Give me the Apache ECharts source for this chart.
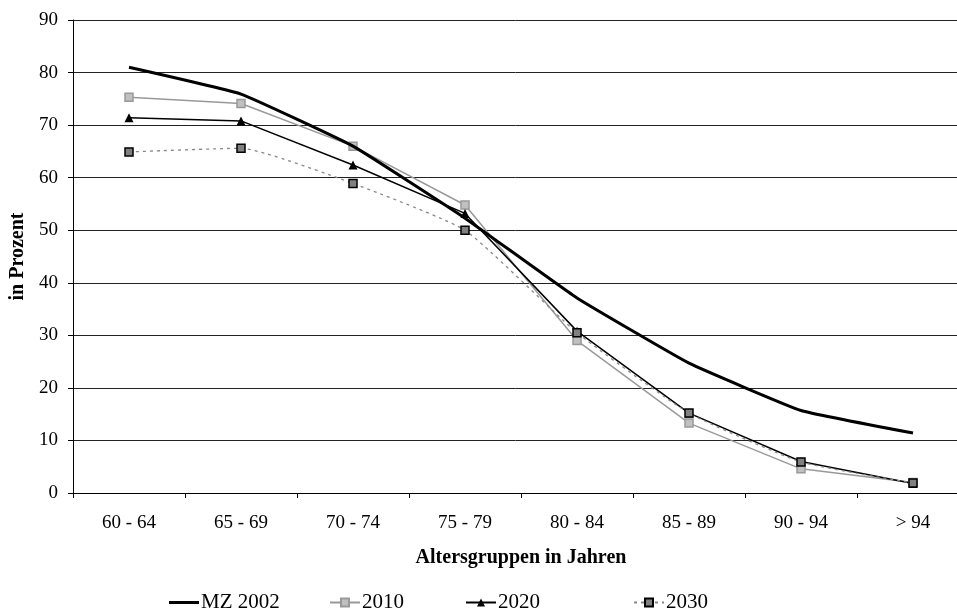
<!DOCTYPE html>
<html>
<head>
<meta charset="utf-8">
<script src="https://cdn.jsdelivr.net/npm/echarts@6/dist/echarts.min.js"></script>
<style>html,body{margin:0;padding:0;background:#fff}#c{width:957px;height:614px}</style>
</head>
<body>
<div id="c"></div>
<script>
const categories = ['60 - 64', '65 - 69', '70 - 74', '75 - 79', '80 - 84', '85 - 89', '90 - 94', '> 94'];
const mz2002 = [81.0, 75.9, 66.0, 52.3, 37.1, 24.7, 15.7, 11.4];
const s2010 = [75.3, 74.1, 66.0, 54.8, 29.0, 13.3, 4.6, 2.0];
const s2020 = [71.4, 70.8, 62.4, 53.2, 30.8, 15.2, 6.0, 1.8];
const s2030 = [64.9, 65.6, 58.9, 50.0, 30.5, 15.2, 5.9, 1.9];
const yTicks = [0, 10, 20, 30, 40, 50, 60, 70, 80, 90];

const font = 'Liberation Serif';
const chart = echarts.init(document.getElementById('c'), null, {renderer: 'canvas'});
const legendBase = {
  top: 587, itemWidth: 30, itemHeight: 10, itemGap: 0,
  textStyle: {fontFamily: font, fontSize: 21, color: '#000', padding: [0, 0, 0, -3]},
  selectedMode: false
};
chart.setOption({
  animation: false,
  textStyle: {fontFamily: font},
  grid: {left: 73, top: 20, bottom: 121, right: -12, containLabel: false, outerBoundsMode: 'none'},
  legend: [
    Object.assign({}, legendBase, {left: 164, itemHeight: 3, data: [{name: 'MZ 2002', icon: 'rect'}]}),
    Object.assign({}, legendBase, {left: 324, data: ['2010']}),
    Object.assign({}, legendBase, {left: 460, data: ['2020']}),
    Object.assign({}, legendBase, {left: 628, data: ['2030']})
  ],
  xAxis: {
    type: 'category', data: categories, boundaryGap: true,
    name: 'Altersgruppen in Jahren', nameLocation: 'middle', nameGap: 55,
    nameTextStyle: {fontFamily: font, fontSize: 20, fontWeight: 'bold', color: '#000'},
    axisLine: {lineStyle: {color: '#000', width: 1}},
    axisTick: {show: true, length: 5, lineStyle: {color: '#000'}},
    axisLabel: {fontFamily: font, fontSize: 19, color: '#000', margin: 21},
    splitLine: {show: false}
  },
  yAxis: {
    type: 'value', min: 0, max: 90, interval: 10,
    name: 'in Prozent', nameLocation: 'middle', nameGap: 43, nameRotate: 90,
    nameTextStyle: {fontFamily: font, fontSize: 20, fontWeight: 'bold', color: '#000'},
    axisLine: {show: true, lineStyle: {color: '#000', width: 1}},
    axisTick: {show: true, length: 5, lineStyle: {color: '#000'}},
    axisLabel: {fontFamily: font, fontSize: 19, color: '#000', margin: 15,
      formatter: v => yTicks.includes(v) ? String(v) : ''},
    splitLine: {show: true, lineStyle: {color: '#222', width: 1}}
  },
  series: [
    {name: 'MZ 2002', type: 'line', data: mz2002, smooth: 0.1, showSymbol: false, symbol: 'none',
     lineStyle: {color: '#000', width: 3}, itemStyle: {color: '#000'}, z: 5},
    {name: '2010', type: 'line', data: s2010, symbol: 'rect', symbolSize: 8,
     lineStyle: {color: '#999', width: 1.5}, itemStyle: {color: '#c0c0c0', borderColor: '#999', borderWidth: 1.5}},
    {name: '2020', type: 'line', data: s2020, symbol: 'triangle', symbolSize: 9,
     lineStyle: {color: '#000', width: 1.5}, itemStyle: {color: '#000', borderColor: '#000', borderWidth: 0}},
    {name: '2030', type: 'line', data: s2030, symbol: 'rect', symbolSize: 8, smooth: 0.15,
     lineStyle: {color: '#888', width: 1.3, type: [3, 4]}, itemStyle: {color: '#808080', borderColor: '#000', borderWidth: 1.5}}
  ]
});
</script>
</body>
</html>
